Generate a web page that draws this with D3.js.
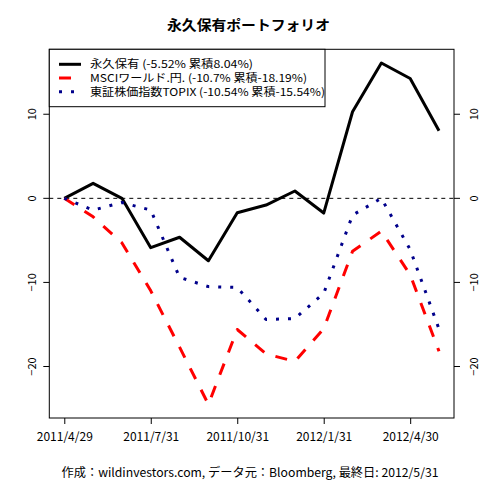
<!DOCTYPE html>
<html><head><meta charset="utf-8">
<script src="https://cdn.jsdelivr.net/npm/d3@7"></script>
<style>body{margin:0;background:#fff}svg{display:block}text{font-family:"Noto Sans CJK JP",sans-serif;}</style>
</head><body>
<svg id="c" width="480" height="480"></svg>
<script>
const tickLabels = ["2011/4/29","2011/7/31","2011/10/31","2012/1/31","2012/4/30"];
const tickIdx = [0,3,6,9,12];
const permanent = [0, 1.78, 0, -5.87, -4.63, -7.42, -1.71, -0.8, 0.87, -1.75, 10.3, 16.1, 14.25, 8.04];
const msci = [0, -2.2, -5.3, -11.0, -17.7, -24.5, -15.6, -18.5, -19.4, -15.5, -6.3, -3.9, -9.1, -18.19];
const topix = [0, -1.4, -0.5, -1.4, -9.4, -10.5, -10.6, -14.4, -14.3, -11.3, -2.0, 0, -6.1, -15.54];
const seriesNames = ["永久保有 (-5.52% 累積8.04%)","MSCIワールド.円. (-10.7% 累積-18.19%)","東証株価指数TOPIX (-10.54% 累積-15.54%)"];
const colors = ["#000000","#ff0000","#00008b"];
const dashes = [null,"12,12","3,9"];
const yTicks = [-20,-10,0,10];

const svg = d3.select("#c");
const L=49.3,R=454,T=49.3,B=418;
const n = permanent.length;
const xpad = (n-1)*0.04;
const x = d3.scaleLinear().domain([-xpad, n-1+xpad]).range([L,R]);
const all = permanent.concat(msci, topix);
const ymin = d3.min(all), ymax = d3.max(all), yp=(ymax-ymin)*0.04;
const y = d3.scaleLinear().domain([ymin-yp, ymax+yp]).range([B,T]);

// zero line
svg.append("line").attr("x1",L).attr("x2",R).attr("y1",y(0)).attr("y2",y(0))
  .attr("stroke","#000").attr("stroke-width",1).attr("stroke-dasharray","4,4");

const line = d3.line().x((d,i)=>x(i)).y(d=>y(d));
[permanent, msci, topix].forEach((s,k)=>{
  svg.append("path").datum(s).attr("d",line).attr("fill","none")
    .attr("stroke",colors[k]).attr("stroke-width",3)
    .attr("stroke-dasharray",dashes[k]).attr("stroke-linejoin","round");
});

// box
svg.append("rect").attr("x",L).attr("y",T).attr("width",R-L).attr("height",B-T)
  .attr("fill","none").attr("stroke","#000").attr("stroke-width",1);

// x axis
const xa = svg.append("g").attr("transform",`translate(0,${B})`)
  .call(d3.axisBottom(x).tickValues(tickIdx).tickFormat((d,i)=>tickLabels[i]).tickSize(6).tickPadding(8));
xa.select(".domain").remove();
xa.selectAll("text").attr("font-size",12).attr("fill","#000").attr("font-family","Noto Sans CJK JP");

// left y axis
const ya = svg.append("g").attr("transform",`translate(${L},0)`)
  .call(d3.axisLeft(y).tickValues(yTicks).tickSize(6).tickFormat(d3.format("d")));
ya.select(".domain").remove();
ya.selectAll("text").attr("font-size",11).attr("fill","#000").attr("font-family","Noto Sans CJK JP")
  .attr("text-anchor","middle").attr("x",0).attr("dy",0)
  .attr("transform",d=>`translate(-17,${y(d)}) rotate(-90)`).attr("y",4);
ya.selectAll(".tick").attr("transform",null);
ya.selectAll(".tick line").attr("y1",d=>y(d)).attr("y2",d=>y(d));

// right y axis
const yb = svg.append("g").attr("transform",`translate(${R},0)`)
  .call(d3.axisRight(y).tickValues(yTicks).tickSize(6).tickFormat(d3.format("d")));
yb.select(".domain").remove();
yb.selectAll("text").attr("font-size",11).attr("fill","#000").attr("font-family","Noto Sans CJK JP")
  .attr("text-anchor","middle").attr("x",0).attr("dy",0)
  .attr("transform",d=>`translate(19.5,${y(d)}) rotate(-90)`).attr("y",4);
yb.selectAll(".tick").attr("transform",null);
yb.selectAll(".tick line").attr("y1",d=>y(d)).attr("y2",d=>y(d));

// legend
const lg = svg.append("g");
lg.append("rect").attr("x",L).attr("y",T).attr("width",325-L).attr("height",106.7-T)
  .attr("fill","#fff").attr("stroke","#000").attr("stroke-width",1);
const rows=[64.3,78,91.7];
const widths=[163,217,235];
seriesNames.forEach((nm,k)=>{
  lg.append("line").attr("x1",59).attr("x2",81).attr("y1",rows[k]).attr("y2",rows[k])
    .attr("stroke",colors[k]).attr("stroke-width",3).attr("stroke-dasharray",dashes[k]);
  lg.append("text").attr("x",90).attr("y",rows[k]+4).attr("font-size",11)
    .attr("textLength",widths[k]).attr("lengthAdjust","spacingAndGlyphs").text(nm);
});

// title
svg.append("text").attr("x",248.5).attr("y",30).attr("text-anchor","middle")
  .attr("font-size",14).attr("font-weight","bold").attr("textLength",163)
  .attr("lengthAdjust","spacingAndGlyphs").text("永久保有ポートフォリオ");

// footer
svg.append("text").attr("x",250).attr("y",477).attr("text-anchor","middle")
  .attr("font-size",12).attr("textLength",377).attr("lengthAdjust","spacingAndGlyphs")
  .text("作成：wildinvestors.com, データ元：Bloomberg, 最終日: 2012/5/31");
</script>
</body></html>
